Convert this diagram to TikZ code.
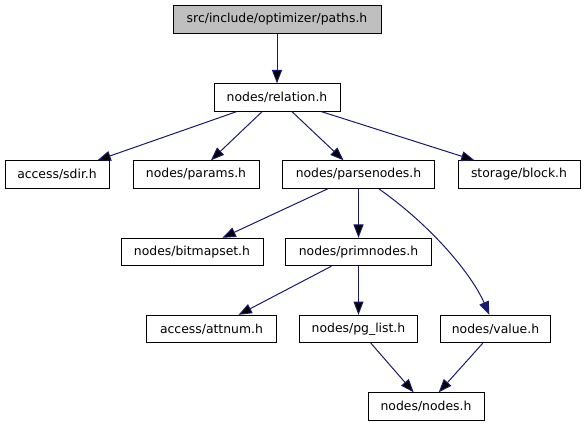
\documentclass[tikz,border=0pt]{standalone}
\usepackage{fontspec}
\setmainfont{DejaVu Sans}
\usepackage{tikz}
\usetikzlibrary{arrows.meta, positioning}

\definecolor{edgeblue}{HTML}{191970}
\definecolor{rootgray}{HTML}{BFBFBF}

\begin{document}
\begin{tikzpicture}[x=0.75pt,y=-0.75pt,
		file/.style={draw=black, line width=0.75pt, fill=white, inner sep=0pt, minimum height=20.5pt, font=\fontsize{9.3pt}{11pt}\selectfont},
		inc/.style={draw=edgeblue, line width=0.75pt, -{Triangle[length=10pt,width=7.5pt]}}]
		
		\useasboundingbox (0,0) rectangle (584,427);
		
		\node (paths) [file, fill=rootgray, minimum width=156pt] at (277,19.5) {src/include/optimizer/paths.h};
		\node (relation) [file, minimum width=94.5pt] at (277,97.5) {nodes/relation.h};
		
		\node (sdir) [file, minimum width=78pt] at (57,174.5) {access/sdir.h};
		\node (params) [file, minimum width=94.5pt] at (196,174.5) {nodes/params.h};
		\node (parsenodes) [file, minimum width=114pt] at (358.5,174.5) {nodes/parsenodes.h};
		\node (block) [file, minimum width=91.5pt] at (519,174.5) {storage/block.h};
		
		\node (bitmapset) [file, minimum width=106.5pt] at (192,252) {nodes/bitmapset.h};
		\node (primnodes) [file, minimum width=109pt] at (358.5,252) {nodes/primnodes.h};
		
		\node (attnum) [file, minimum width=97pt] at (211.5,329) {access/attnum.h};
		\node (pglist) [file, minimum width=89pt] at (358.5,329) {nodes/pg\_list.h};
		\node (value) [file, minimum width=83pt] at (495.5,329) {nodes/value.h};
		
		\node (nodes) [file, minimum width=87pt] at (426,406.5) {nodes/nodes.h};
		
		\path [inc]
		(paths) edge (relation)
		(relation) edge (sdir)
		(relation) edge (params)
		(relation) edge (parsenodes)
		(relation) edge (block)
		(parsenodes) edge (bitmapset)
		(parsenodes) edge (primnodes)
		(primnodes) edge (attnum)
		(primnodes) edge (pglist)
		(pglist) edge (nodes)
		(value) edge (nodes);
		
		\draw [inc] (parsenodes) .. controls (433,227) and (472,275) .. (value);
	\end{tikzpicture}
\end{document}
